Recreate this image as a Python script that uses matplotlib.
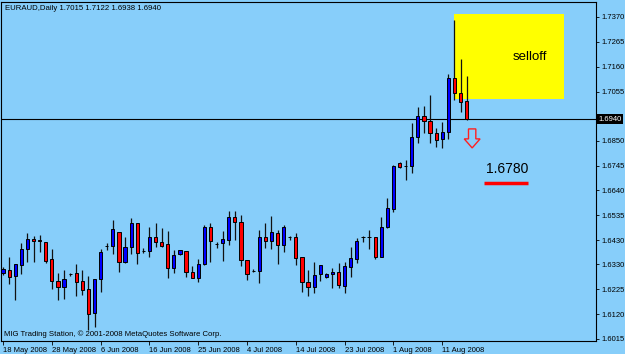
import matplotlib
matplotlib.use('Agg')
import matplotlib.pyplot as plt
from matplotlib.patches import Rectangle, Polygon

# daily EURAUD candles (18 May 2008 .. 15 Aug 2008)
opens = [1.6293, 1.6306, 1.6280, 1.6327, 1.6394, 1.6436, 1.6431, 1.6423, 1.6352, 1.6259,
         1.6234, 1.6289, 1.6293, 1.6259, 1.6226, 1.6124, 1.6268, 1.6405, 1.6406, 1.6465,
         1.6339, 1.6402, 1.6503, 1.6385, 1.6385, 1.6444, 1.6423, 1.6415, 1.6314, 1.6373,
         1.6385, 1.6297, 1.6272, 1.6331, 1.6486, 1.6415, 1.6419, 1.6431, 1.6528, 1.6507,
         1.6348, 1.6301, 1.6301, 1.6444, 1.6427, 1.6461, 1.6410, 1.6444, 1.6444, 1.6360,
         1.6255, 1.6234, 1.6289, 1.6276, 1.6289, 1.6297, 1.6238, 1.6318, 1.6352, 1.6444,
         1.6444, 1.6444, 1.6360, 1.6486, 1.6562, 1.6755, 1.6743, 1.6743, 1.6865, 1.6953,
         1.6932, 1.6882, 1.6857, 1.6886, 1.7113, 1.7050, 1.7015]
highs = [1.6318, 1.6360, 1.6331, 1.6419, 1.6461, 1.6448, 1.6452, 1.6423, 1.6394, 1.6293,
         1.6306, 1.6293, 1.6331, 1.6306, 1.6280, 1.6268, 1.6394, 1.6419, 1.6516, 1.6465,
         1.6444, 1.6524, 1.6503, 1.6398, 1.6486, 1.6503, 1.6482, 1.6469, 1.6389, 1.6389,
         1.6385, 1.6322, 1.6352, 1.6495, 1.6503, 1.6423, 1.6469, 1.6555, 1.6555, 1.6537,
         1.6348, 1.6310, 1.6474, 1.6503, 1.6532, 1.6474, 1.6495, 1.6448, 1.6461, 1.6360,
         1.6306, 1.6339, 1.6327, 1.6293, 1.6314, 1.6335, 1.6339, 1.6402, 1.6440, 1.6448,
         1.6474, 1.6444, 1.6528, 1.6608, 1.6747, 1.6760, 1.6768, 1.6924, 1.6991, 1.6995,
         1.7042, 1.6903, 1.6928, 1.7130, 1.7357, 1.7193, 1.7122]
lows = [1.6284, 1.6247, 1.6179, 1.6289, 1.6339, 1.6339, 1.6381, 1.6335, 1.6226, 1.6179,
        1.6183, 1.6280, 1.6196, 1.6200, 1.6052, 1.6065, 1.6213, 1.6389, 1.6373, 1.6297,
        1.6335, 1.6373, 1.6331, 1.6377, 1.6360, 1.6402, 1.6402, 1.6272, 1.6293, 1.6369,
        1.6276, 1.6272, 1.6255, 1.6327, 1.6339, 1.6398, 1.6343, 1.6410, 1.6431, 1.6322,
        1.6264, 1.6297, 1.6251, 1.6398, 1.6394, 1.6331, 1.6381, 1.6431, 1.6327, 1.6213,
        1.6196, 1.6209, 1.6259, 1.6272, 1.6230, 1.6230, 1.6209, 1.6276, 1.6335, 1.6423,
        1.6394, 1.6352, 1.6360, 1.6482, 1.6549, 1.6735, 1.6684, 1.6713, 1.6840, 1.6882,
        1.6840, 1.6822, 1.6819, 1.6857, 1.7021, 1.6970, 1.6938]
closes = [1.6310, 1.6276, 1.6331, 1.6394, 1.6436, 1.6427, 1.6427, 1.6343, 1.6259, 1.6234,
          1.6268, 1.6290, 1.6255, 1.6221, 1.6120, 1.6268, 1.6381, 1.6407, 1.6478, 1.6339,
          1.6402, 1.6503, 1.6377, 1.6386, 1.6444, 1.6423, 1.6406, 1.6314, 1.6369, 1.6389,
          1.6297, 1.6272, 1.6331, 1.6486, 1.6427, 1.6416, 1.6436, 1.6528, 1.6507, 1.6348,
          1.6289, 1.6302, 1.6444, 1.6427, 1.6465, 1.6410, 1.6486, 1.6445, 1.6356, 1.6255,
          1.6234, 1.6284, 1.6327, 1.6289, 1.6297, 1.6242, 1.6322, 1.6356, 1.6427, 1.6445,
          1.6445, 1.6360, 1.6486, 1.6566, 1.6743, 1.6739, 1.6744, 1.6865, 1.6953, 1.6932,
          1.6882, 1.6852, 1.6886, 1.7113, 1.7050, 1.7012, 1.6940]

date_ticks = [0, 8, 16, 24, 32, 40, 48, 56, 64, 72]
date_labels = ['18 May 2008', '28 May 2008', '6 Jun 2008', '16 Jun 2008', '25 Jun 2008',
               '4 Jul 2008', '14 Jul 2008', '23 Jul 2008', '1 Aug 2008', '11 Aug 2008']
price_ticks = [1.6015, 1.6120, 1.6225, 1.6330, 1.6430, 1.6535, 1.6640, 1.6745,
               1.6850, 1.7055, 1.7160, 1.7265, 1.7370]
last_price = 1.6940
target = 1.6780

bg = '#87CEFA'

fig = plt.figure(figsize=(6.25, 3.54), dpi=100, facecolor=bg)
ax = fig.add_axes([1 / 625, 13 / 354, 595 / 625, 339 / 354])
ax.set_facecolor(bg)

# selloff box (drawn under the candles)
ax.add_patch(Rectangle((73.95, 1.7025), 18.0, 0.0358, facecolor='#FFFF00',
                       edgecolor='none', zorder=1))
ax.text(86.4, 1.7202, 'selloff', fontsize=9.5, family='Liberation Sans',
        ha='center', va='center', zorder=2)

x = list(range(len(opens)))
ax.vlines(x, lows, highs, color='#111111', lw=0.9, zorder=3)
for i in x:
    o, c = opens[i], closes[i]
    col = '#0000FF' if c > o else '#FF0000'
    h = max(abs(c - o), 0.00005)
    ax.bar(i, h, bottom=min(o, c), width=0.52, color=col, edgecolor='black',
           lw=0.7, zorder=4)

# last price line
ax.axhline(last_price, color='black', lw=0.8, zorder=2)
ax.text(1.004, last_price, '%.4f' % last_price, transform=ax.get_yaxis_transform(),
        color='white', fontsize=5.5, family='Liberation Sans', va='center', ha='left',
        bbox=dict(facecolor='black', edgecolor='none', pad=1.0), clip_on=False)

# hollow down arrow
ax_c = 76.9
arrow = [(ax_c - 0.6, 1.6899), (ax_c + 0.6, 1.6899), (ax_c + 0.6, 1.6857),
         (ax_c + 1.3, 1.6857), (ax_c, 1.6819), (ax_c - 1.3, 1.6857), (ax_c - 0.6, 1.6857)]
ax.add_patch(Polygon(arrow, closed=True, facecolor='none', edgecolor='#FF2020',
                     lw=1.0, zorder=5))

# target label with red underline
ax.text(82.6, 1.6730, '%.4f' % target, fontsize=10, family='Liberation Sans',
        ha='center', va='center', zorder=5)
ax.plot([78.85, 86.1], [1.6673, 1.6673], color='#FF0000', lw=2.5,
        solid_capstyle='butt', zorder=5)

ax.set_xlim(-0.33, 97.2)
ax.set_ylim(1.60064, 1.74331)

ax.yaxis.tick_right()
ax.set_yticks(price_ticks)
ax.set_yticklabels(['%.4f' % p for p in price_ticks])
ax.set_xticks(date_ticks)
ax.set_xticklabels(date_labels)
for lab in ax.get_xticklabels():
    lab.set_ha('left')
ax.tick_params(axis='y', direction='out', length=2.5, width=0.6, pad=1.5,
               labelsize=5.5, colors='black')
ax.tick_params(axis='x', direction='out', length=3, width=0.6, pad=1,
               labelsize=5.5, colors='black')
for lab in ax.get_xticklabels() + ax.get_yticklabels():
    lab.set_family('Liberation Sans')

for s in ax.spines.values():
    s.set_color('black')
    s.set_linewidth(0.8)

fig.text(5 / 625, 1 - 8 / 354, 'EURAUD,Daily 1.7015 1.7122 1.6938 1.6940',
         fontsize=5.6, family='Liberation Sans', va='center', ha='left')
fig.text(4 / 625, 1 - 334 / 354,
         'MIG Trading Station, \u00a9 2001-2008 MetaQuotes Software Corp.',
         fontsize=5.6, family='Liberation Sans', va='center', ha='left')

fig.savefig('out.png', dpi=100, facecolor=bg)
